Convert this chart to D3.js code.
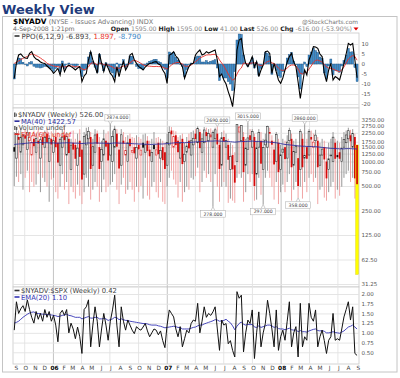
<!DOCTYPE html>
<html><head><meta charset="utf-8">
<script src="https://cdn.jsdelivr.net/npm/d3@7/dist/d3.min.js"></script>
<style>
html,body{margin:0;padding:0;background:#fff}
svg{display:block}
text{font-family:"DejaVu Sans",Verdana,sans-serif}
.ax path{display:none}
</style></head><body>
<svg id="chart" width="400" height="378"></svg>
<script>
// ---------- DATA ----------
const firstWeek = "2005-08-30";
const ppoTicks = [10,5,0,-5,-10,-15,-20];
const priceTicks = [3250,2750,2250,1750,1500,1250,1000,750,500,250,125,62.5,31.25];
const ratioTicks = [2,1.75,1.5,1.25,1,0.75,0.5];

const ppo = [
-7.2,0.5,4.5,5.0,3.7,3.0,2.8,5.3,6.2,3.7,
2.5,2.0,1.0,0.5,0.3,-1.0,-2.0,-3.0,-4.7,-3.5,
-2.2,-5.5,0.3,-3.8,-1.5,-0.5,-1.3,-2.0,-3.0,-2.0,
-1.3,-8.8,-6.0,-4.7,2.0,6.2,2.0,-1.3,-4.7,5.3,
0.5,-3.8,0.3,-2.0,-4.7,-6.0,-8.8,-1.3,-6.3,-2.0,
1.2,-3.0,-1.0,4.5,5.3,2.0,0.3,-1.3,-2.0,-3.0,
-1.5,-0.5,0.3,0.5,1.0,1.2,0.0,-0.5,-3.0,-4.7,
-9.7,4.5,5.0,6.2,4.0,2.8,0.5,-1.3,-7.2,-4.0,
-1.3,0.0,0.3,4.5,6.0,7.0,4.5,5.0,6.2,5.5,
6.0,6.5,7.0,2.0,-6.3,-5.0,-8.0,-10.0,-13.8,-17.0,
-21.3,-11.3,7.0,12.0,12.8,5.0,0.3,-1.3,1.0,3.7,
-1.5,1.2,-6.3,-3.0,-0.5,6.2,6.5,5.3,-4.7,0.3,
-4.0,-8.0,-9.7,-7.0,-3.0,1.0,3.7,5.3,1.0,-1.3,
-9.0,-17.2,-10.0,-3.0,-5.5,2.0,5.0,8.7,8.5,7.8,
5.0,3.7,-4.7,-8.8,-3.0,0.3,-8.0,-6.3,-7.0,-8.0,
-4.0,0.3,5.0,10.3,9.5,10.3,2.0,-6.893];
const ppoSignal = [
0.3,0.8,1.5,2.2,2.8,3.3,3.8,4.5,5.0,4.8,
4.2,3.7,3.0,2.2,1.5,0.3,-0.2,-0.6,-1.0,-1.2,
-1.3,-1.6,-1.2,-1.5,-1.2,-1.0,-1.0,-1.2,-1.4,-1.3,
-1.3,-2.5,-2.8,-2.5,-1.5,0.3,0.6,0.3,-0.5,0.4,
0.3,-0.4,-0.3,-0.5,-1.0,-1.5,-2.2,-1.8,-2.2,-1.6,
-1.0,-1.2,-0.5,0.5,1.5,2.0,1.5,1.0,0.3,-0.4,
-0.8,-1.0,-1.1,-1.2,-1.3,-1.2,-1.3,-1.3,-1.6,-2.0,
-2.5,-1.5,-0.5,0.3,0.6,0.8,0.6,0.0,-1.0,-1.2,
-1.0,-0.5,0.3,1.2,2.0,3.0,3.5,4.0,4.5,4.6,
4.6,4.8,4.8,4.0,2.0,0.5,-1.0,-3.0,-5.0,-7.0,
-8.0,-7.5,-5.0,-3.0,-2.0,0.5,0.3,0.0,0.2,0.6,
0.5,0.5,-0.5,-0.8,-0.5,0.5,1.2,1.5,0.5,0.3,
-0.8,-2.0,-3.0,-3.2,-3.0,-2.0,-1.0,-0.5,-0.5,-1.0,
-2.5,-4.7,-5.0,-4.0,-4.2,-2.5,-1.0,0.8,1.8,2.0,
1.5,1.0,-0.2,-1.5,-2.0,-2.2,-2.5,-3.0,-3.5,-3.8,
-3.0,-1.5,0.5,2.5,3.5,4.2,3.8,1.897];
const ppoHist = [
-7.5,-0.3,3.0,2.8,0.9,-0.3,-1.0,0.8,1.2,-1.1,
-1.7,-1.7,-2.0,-1.7,-1.2,-1.3,-1.8,-2.4,-3.7,-2.3,
-0.9,-3.9,1.5,-2.3,-0.3,0.5,-0.3,-0.8,-1.6,-0.7,
0.0,-6.3,-3.2,-2.2,3.5,5.9,1.4,-1.6,-4.2,4.9,
0.2,-3.4,0.6,-1.5,-3.7,-4.5,-6.6,0.5,-4.1,-0.4,
2.2,-1.8,-0.5,4.0,3.8,0.0,-1.2,-2.3,-2.3,-2.6,
-0.7,0.5,1.4,1.7,2.3,2.4,1.3,0.8,-1.4,-2.7,
-7.2,6.0,5.5,5.9,3.4,2.0,-0.1,-1.3,-6.2,-2.8,
-0.3,0.5,0.0,3.3,4.0,4.0,1.0,1.0,1.7,0.9,
1.4,1.7,2.2,-2.0,-8.3,-5.5,-7.0,-7.0,-8.8,-10.0,
-13.3,-3.8,12.0,15.0,14.8,4.5,0.0,-1.3,0.8,3.1,
-2.0,0.7,-5.8,-2.2,0.0,5.7,5.3,3.8,-5.2,0.0,
-3.2,-6.0,-6.7,-3.8,0.0,3.0,4.7,5.8,1.5,-0.3,
-6.5,-12.5,-5.0,1.0,-1.3,4.5,6.0,7.9,6.7,5.8,
3.5,2.7,-4.5,-7.3,-1.0,2.5,-5.5,-3.3,-3.5,-4.2,
-1.0,1.8,4.5,7.8,6.0,6.1,-1.8,-8.79];

const open = [
1500,1100,2000,1300,1600,2100,1400,1800,1200,1900,
1300,1800,1100,2000,1500,2200,1000,1900,1300,2000,
1700,900,1500,2100,1200,1900,800,1700,1600,900,
1800,1400,700,1600,1900,2000,900,1300,2200,1500,
1000,1200,1800,1700,1200,1000,1500,2200,1400,900,
1800,1200,1000,1900,1300,1500,1100,1600,1200,1700,
1300,1800,1400,1000,1600,1200,1700,1100,1500,1300,
900,1600,2400,1500,2100,1800,1100,1900,1000,1300,
1800,1200,1600,2200,1700,2300,1300,1700,2300,1800,
2000,1500,1900,2200,1600,900,2000,1500,1600,800,
1200,900,1000,2300,1800,2000,900,1400,2100,1500,
2000,700,1500,1800,800,1600,1500,2300,1800,1400,
1000,1700,800,1300,1500,1100,1800,1900,900,1300,
1100,800,1900,1100,1500,1200,2000,1500,1800,1800,
900,1200,1500,1000,800,1200,1000,1700,1200,1300,
1000,1500,1700,1900,2100,1500,2000,1595];
const high = [
2300,2500,2400,2600,2200,2500,2450,2300,2100,2400,
2200,2550,2000,2300,2400,2600,2100,2350,2200,2450,
2300,2000,2500,2700,2300,2200,1900,2400,1900,2200,
2500,1700,2300,2600,2650,2300,1900,2500,2400,2000,
1800,2450,2200,2350,2874,2400,2750,2500,1800,2500,
2300,2000,2100,2200,2000,1950,2100,2000,1900,2150,
2200,2050,1800,1900,2300,1950,2000,1900,1800,1700,
2200,2700,2650,2400,2350,2000,2100,2200,1700,2000,
2200,2300,2400,2500,2700,2500,2200,2650,2600,2500,
2550,2400,2600,2690,1900,2300,2400,2200,1900,1700,
1600,1300,2850,2750,2800,2300,1900,3015,2500,2500,
2200,1800,2500,2300,1900,2200,2750,2600,2100,1800,
2300,1900,1600,1900,1800,2100,2600,2200,1800,1900,
1600,2500,2200,2860,1900,2500,2400,2200,2450,2000,
1700,1900,1800,1500,1700,1900,2300,1900,1800,1700,
2000,2300,2400,2600,2450,2500,2200,1595];
const low = [
500,650,560,700,450,630,770,420,560,490,
520,700,420,630,560,490,320,600,630,420,
350,490,700,450,560,300,490,420,350,520,
380,300,420,630,490,340,450,560,490,320,
420,600,420,490,520,560,700,450,300,520,
630,400,450,560,450,320,490,420,500,350,
630,380,340,490,560,420,360,560,320,300,
490,630,770,600,520,360,560,320,420,490,
450,630,600,660,840,420,560,770,630,700,
560,278,700,490,320,490,560,490,310,350,
330,310,630,700,630,320,420,700,560,700,
330,340,630,390,297,630,770,630,490,340,
560,300,420,520,420,560,700,330,450,560,
358,490,350,560,420,630,700,560,630,300,
450,490,360,330,420,490,560,350,450,380,
490,630,700,770,560,630,350,41];
const close = [
1320,2210,1850,1990,2090,1910,2280,1970,1720,1540,
1910,1660,1850,1600,1970,1720,1930,1620,1800,1500,
970,1880,1990,1830,2020,1270,1590,1400,1080,1460,
1140,600,2030,2120,2350,810,1520,2120,1650,810,
1400,1900,1520,1030,1650,2020,2500,1520,820,2130,
1660,1370,1700,1540,1370,1260,1490,1410,1380,1480,
1600,1350,1160,1290,1420,1390,1230,1370,1040,810,
1710,2280,2160,2030,1590,1300,1680,930,1230,1550,
1450,1800,1930,1890,2560,1460,1900,2440,2050,2200,
2130,2260,2450,1620,810,1960,1760,1820,1050,1160,
800,550,2850,2650,2780,740,1460,1950,1820,2330,
500,1470,2270,940,1480,1830,2700,2200,1610,920,
2150,740,1210,1420,1070,1730,2400,850,1330,1540,
500,2330,850,1190,1080,2340,1860,1730,2110,850,
1200,1420,1060,620,1080,1200,1990,1080,1130,1080,
1460,1870,2120,2390,1770,2220,620,526];
const ma40 = [
1620,1630,1640,1650,1660,1670,1680,1690,1700,1700,
1710,1710,1710,1700,1700,1700,1690,1690,1690,1680,
1680,1680,1690,1690,1700,1690,1690,1680,1680,1680,
1670,1660,1670,1680,1690,1680,1680,1690,1690,1680,
1680,1680,1680,1670,1670,1680,1690,1690,1680,1680,
1680,1670,1670,1660,1660,1650,1650,1640,1640,1640,
1630,1630,1620,1620,1630,1630,1640,1640,1640,1650,
1660,1670,1680,1690,1700,1700,1710,1710,1700,1710,
1720,1720,1730,1740,1750,1750,1760,1760,1770,1770,
1780,1780,1790,1790,1780,1770,1770,1770,1760,1750,
1740,1730,1740,1750,1760,1760,1760,1770,1770,1780,
1770,1760,1760,1750,1750,1740,1740,1730,1720,1710,
1700,1680,1660,1640,1620,1610,1600,1590,1580,1570,
1550,1550,1540,1540,1530,1530,1530,1520,1520,1510,
1500,1490,1480,1470,1460,1450,1450,1440,1440,1430,
1430,1430,1440,1440,1440,1430,1430,1422.57];
const ratio = [
1.07,1.80,1.50,1.62,1.70,1.55,1.85,1.60,1.40,1.25,
1.55,1.35,1.50,1.30,1.60,1.40,1.55,1.30,1.45,1.20,
0.77,1.50,1.58,1.45,1.60,1.00,1.25,1.10,0.85,1.15,
0.90,0.47,1.60,1.67,1.85,0.64,1.20,1.67,1.30,0.64,
1.10,1.50,1.20,0.81,1.30,1.59,1.97,1.20,0.64,1.67,
1.30,1.07,1.33,1.20,1.07,0.98,1.16,1.10,1.07,1.15,
1.24,1.05,0.90,1.00,1.10,1.07,0.95,1.05,0.80,0.62,
1.20,1.59,1.50,1.41,1.10,0.90,1.16,0.64,0.85,1.07,
1.00,1.24,1.33,1.30,1.76,1.00,1.30,1.67,1.40,1.50,
1.45,1.54,1.67,1.10,0.55,1.33,1.20,1.24,0.72,0.80,
0.55,0.38,2.06,1.89,1.97,0.51,1.00,1.33,1.24,1.59,
0.34,1.00,1.54,0.64,1.00,1.24,1.84,1.50,1.10,0.64,
1.59,0.55,0.90,1.07,0.81,1.30,1.80,0.64,1.00,1.16,
0.38,1.76,0.64,0.90,0.81,1.76,1.40,1.30,1.59,0.64,
0.90,1.07,0.80,0.47,0.81,0.90,1.50,0.81,0.85,0.81,
1.10,1.41,1.60,1.80,1.33,1.67,0.47,0.42];
const ema20 = [
1.25,1.27,1.30,1.35,1.40,1.44,1.48,1.51,1.53,1.54,
1.50,1.50,1.49,1.48,1.48,1.47,1.47,1.46,1.45,1.44,
1.42,1.43,1.45,1.46,1.48,1.45,1.44,1.42,1.40,1.40,
1.40,1.36,1.38,1.40,1.42,1.38,1.38,1.40,1.40,1.36,
1.36,1.37,1.36,1.32,1.34,1.36,1.40,1.39,1.34,1.36,
1.34,1.32,1.32,1.30,1.29,1.28,1.27,1.26,1.25,1.24,
1.24,1.23,1.21,1.20,1.20,1.20,1.18,1.17,1.15,1.13,
1.14,1.15,1.16,1.17,1.16,1.14,1.14,1.10,1.10,1.10,
1.10,1.12,1.14,1.15,1.18,1.20,1.20,1.23,1.25,1.27,
1.29,1.31,1.34,1.33,1.30,1.31,1.32,1.35,1.30,1.26,
1.18,1.08,1.17,1.24,1.28,1.22,1.20,1.22,1.21,1.22,
1.15,1.14,1.18,1.14,1.16,1.18,1.20,1.20,1.18,1.14,
1.16,1.11,1.10,1.10,1.08,1.10,1.12,1.08,1.07,1.08,
1.03,1.06,1.03,1.03,1.02,1.05,1.07,1.09,1.10,1.06,
1.05,1.06,1.04,1.00,1.00,1.01,1.03,1.01,1.00,0.99,
1.02,1.05,1.10,1.15,1.17,1.20,1.15,1.10];
const highCallouts = [44, 93, 107, 133];
const lowCallouts = [91, 114, 130];

// ---------- LAYOUT ----------
const svg = d3.select("#chart");
const n = close.length;
const t0 = d3.timeParse("%Y-%m-%d")(firstWeek);
const dates = d3.range(n).map(i => d3.timeDay.offset(t0, 7*i));
const L = 13, R = 359;
const P1 = {t:33, b:108}, P2 = {t:108, b:287}, P3 = {t:287, b:364};
const x = d3.scaleTime().domain([new Date(2005,7,26), new Date(2008,8,5)]).range([13, 358]);
const yP = d3.scaleLinear().domain([-20,10]).range([104,44]);
const yV = d3.scaleLog().domain([1000,2000]).range([161.5,137]);
const yR = d3.scaleLinear().domain([0.5,2]).range([352.3,294]);
const X = i => x(dates[i]);

// title
svg.append("text").attr("x",2).attr("y",14).attr("font-size",13).attr("font-weight","bold")
  .attr("font-family",'"Liberation Sans",Arial,sans-serif')
  .attr("fill","#1f3b7c").text("Weekly View");
// outer frame
svg.append("rect").attr("x",2.5).attr("y",16.5).attr("width",394.5).attr("height",355.5)
  .attr("fill","#fff").attr("stroke","#c4c4c4");

// header
const h1 = svg.append("text").attr("x",13).attr("y",23.5).attr("font-size",6.6);
h1.append("tspan").attr("font-weight","bold").attr("font-size",7.4).attr("fill","#000").text("$NYADV");
h1.append("tspan").attr("fill","#777").text(" (NYSE - Issues Advancing) INDX");
svg.append("text").attr("x",13).attr("y",31).attr("font-size",6.2).attr("fill","#666").text("4-Sep-2008 1:21pm");
svg.append("text").attr("x",358).attr("y",23.5).attr("font-size",5.9).attr("fill","#777").attr("text-anchor","end").text("@StockCharts.com");
const h2 = svg.append("text").attr("x",352).attr("y",31).attr("font-size",6.2).attr("text-anchor","end").attr("fill","#888");
[["Open"," 1595.00  "],["High"," 1595.00  "],["Low"," 41.00  "],["Last"," 526.00  "],["Chg"," -616.00 (-53.90%)"]].forEach(([a,b])=>{
  h2.append("tspan").attr("font-weight","bold").attr("fill","#222").text(a);
  h2.append("tspan").text(b);
});
svg.append("path").attr("d","M353.5,27.5 L358.5,27.5 L356,30.5 Z").attr("fill","#d00");

// panel backgrounds / borders
[P1,P2,P3].forEach(p => svg.append("rect").attr("x",L).attr("y",p.t).attr("width",R-L).attr("height",p.b-p.t)
  .attr("fill","#fff").attr("stroke","#c8c8c8").attr("stroke-width",0.8));

// vertical grid (quarterly)
const vg = svg.append("g").attr("class","ax").attr("transform",`translate(0,${P3.b})`)
  .call(d3.axisBottom(x).ticks(d3.timeMonth.every(3)).tickSize(-(P3.b-P1.t)).tickFormat(""));
vg.selectAll(".tick line").attr("stroke", d => d.getMonth()===0 ? "#bdbdbd" : "#e2e2e2").attr("stroke-width",0.9);

// horizontal grids + right labels
function yAxis(scale, ticks, fmt){
  const g = svg.append("g").attr("class","ax").attr("transform",`translate(${L},0)`)
    .call(d3.axisRight(scale).tickValues(ticks).tickSize(R-L).tickPadding(2.5).tickFormat(fmt));
  g.selectAll(".tick line").attr("stroke","#e2e2e2").attr("stroke-width",0.9);
  g.selectAll(".tick text").attr("font-size",5.5).attr("fill","#555").attr("font-family",'"DejaVu Sans",Verdana,sans-serif');
}
yAxis(yP, ppoTicks, d => String(d));
yAxis(yV, priceTicks, d => d.toFixed(2));
yAxis(yR, ratioTicks, d => d.toFixed(2));

// clip paths
const defs = svg.append("defs");
[P1,P2,P3].forEach((p,k)=> defs.append("clipPath").attr("id","cp"+k).append("rect")
  .attr("x",L).attr("y",p.t).attr("width",R-L).attr("height",p.b-p.t));

// ---- Panel 1: PPO ----
const g1 = svg.append("g").attr("clip-path","url(#cp0)");
g1.selectAll("rect.h").data(ppoHist).join("rect").attr("class","h")
  .attr("x",(d,i)=>X(i)-1).attr("width",2)
  .attr("y",d=>Math.min(yP(d),yP(0))).attr("height",d=>Math.abs(yP(d)-yP(0)))
  .attr("fill","#3f8cc8").attr("stroke","#1f5080").attr("stroke-width",0.4);
g1.append("path").datum(ppoSignal).attr("fill","none").attr("stroke","#e8302a").attr("stroke-width",0.9)
  .attr("d", d3.line().x((d,i)=>X(i)).y(d=>yP(d)));
g1.append("path").datum(ppo).attr("fill","none").attr("stroke","#000").attr("stroke-width",1.1)
  .attr("d", d3.line().x((d,i)=>X(i)).y(d=>yP(d)));

// ---- Panel 2: candles ----
const g2 = svg.append("g").attr("clip-path","url(#cp1)");
for (let i=0;i<n;i++){
  const up = i===0 ? true : close[i] >= close[i-1];
  const col = up ? "#000" : "#d40000";
  const wick = up ? "#8c8c8c" : "#ee9a9a";
  const cx = X(i);
  if (i===n-1){
    g2.append("rect").attr("x",cx-1.4).attr("width",2.8).attr("y",yV(high[i])).attr("height",yV(low[i])-yV(high[i]))
      .attr("fill","#ffff00").attr("stroke","#d8c800").attr("stroke-width",0.4);
  } else {
    g2.append("line").attr("x1",cx).attr("x2",cx).attr("y1",yV(high[i])).attr("y2",yV(low[i]))
      .attr("stroke",wick).attr("stroke-width",0.9);
  }
  const top = yV(Math.max(open[i],close[i])), bot = yV(Math.min(open[i],close[i]));
  const filled = close[i] < open[i];
  g2.append("rect").attr("x",cx-0.9).attr("width",1.8).attr("y",top).attr("height",Math.max(0.8,bot-top))
    .attr("fill", filled ? col : "#fff").attr("stroke", col).attr("stroke-width", filled?0:0.6)
    .attr("opacity", filled?0.95:0.75);
}
g2.append("path").datum(ma40).attr("fill","none").attr("stroke","#2e2e9e").attr("stroke-width",0.9)
  .attr("d", d3.line().x((d,i)=>X(i)).y(d=>yV(d)));

// ---- legends (panel 2 first line measured for callout placement) ----
const LF = 6.8;
function swatch(y, color){ svg.append("line").attr("x1",14.5).attr("x2",19.5).attr("y1",y).attr("y2",y).attr("stroke",color).attr("stroke-width",1.6); }
const l2 = svg.append("text").attr("x",18).attr("y",117).attr("font-size",LF).attr("fill","#444").text("$NYADV (Weekly) 526.00");
const bb = l2.node().getBBox();
const legendEnd = bb.x + bb.width;

function callout(cx, tipY, label, above, minLeft){
  const w=25, h=6.4;
  const cy = above ? tipY-6.4 : tipY+7.2;
  const bx = Math.max(cx, (minLeft||0) + w/2 + 1.5);
  const g = svg.append("g");
  g.append("path").attr("d", above
      ? `M${cx-2},${cy+h/2} L${cx},${tipY} L${cx+2},${cy+h/2}`
      : `M${cx-2},${cy-h/2} L${cx},${tipY} L${cx+2},${cy-h/2}`)
    .attr("fill","#fff").attr("stroke","#999").attr("stroke-width",0.5);
  g.append("rect").attr("x",bx-w/2).attr("y",cy-h/2).attr("width",w).attr("height",h)
    .attr("fill","#fff").attr("stroke","#aaa").attr("stroke-width",0.5);
  g.append("text").attr("x",bx).attr("y",cy+1.7).attr("text-anchor","middle").attr("font-size",4.6)
    .attr("fill","#444").text(label);
}
highCallouts.forEach(i => callout(X(i), yV(high[i]), high[i].toFixed(3), true, X(i) < 130 ? legendEnd : 0));
lowCallouts.forEach(i => callout(X(i), yV(low[i]), low[i].toFixed(3), false, 0));

// ---- Panel 3: ratio ----
const g3 = svg.append("g").attr("clip-path","url(#cp2)");
g3.append("path").datum(ema20).attr("fill","none").attr("stroke","#3434b4").attr("stroke-width",0.9)
  .attr("d", d3.line().x((d,i)=>X(i)).y(d=>yR(d)));
g3.append("path").datum(ratio).attr("fill","none").attr("stroke","#111").attr("stroke-width",1)
  .attr("d", d3.line().x((d,i)=>X(i)).y(d=>yR(d)));

// ---- month axis ----
const xa = svg.append("g").attr("class","ax").attr("transform",`translate(1,${P3.b})`)
  .call(d3.axisBottom(x).ticks(d3.timeMonth.every(1)).tickSize(0).tickPadding(0)
    .tickFormat(d => d.getMonth()===0 ? d3.timeFormat("%y")(d) : d3.timeFormat("%b")(d)[0]));
xa.selectAll(".tick line").remove();
xa.selectAll(".tick text").attr("y",6.3).attr("dy",0).attr("font-size",5.8)
  .attr("font-family",'"DejaVu Sans",Verdana,sans-serif')
  .attr("font-weight", d => d.getMonth()===0 ? "bold" : "normal")
  .attr("fill", d => d.getMonth()===0 ? "#000" : "#444");

// ---- remaining legends ----
swatch(36,"#333");
const lg1 = svg.append("text").attr("x",21.5).attr("y",38.5).attr("font-size",LF+0.3);
lg1.append("tspan").attr("fill","#444").text("PPO(6,12,9) -6.893, ");
lg1.append("tspan").attr("fill","#e8302a").text("1.897, ");
lg1.append("tspan").attr("fill","#3b86c6").text("-8.790");

svg.insert("rect", () => l2.node()).attr("x",13.5).attr("y",bb.y-0.3).attr("width",legendEnd-13).attr("height",bb.height).attr("fill","#fff");
svg.append("rect").attr("x",14.2).attr("y",112.5).attr("width",1.2).attr("height",4.5).attr("fill","#333");
svg.append("rect").attr("x",15.8).attr("y",113.5).attr("width",1.2).attr("height",3).attr("fill","#777");
swatch(121.2,"#2e2e9e");
svg.append("text").attr("x",21).attr("y",123.5).attr("font-size",LF).attr("fill","#2e2e9e").text("MA(40) 1422.57");
svg.append("rect").attr("x",14.2).attr("y",126).attr("width",1.3).attr("height",4).attr("fill","#555");
svg.append("rect").attr("x",16).attr("y",127).attr("width",1.3).attr("height",3).attr("fill","#555");
svg.append("text").attr("x",18.5).attr("y",130).attr("font-size",LF).attr("fill","#555").text("Volume undef");
swatch(134.2,"#e8302a");
svg.append("text").attr("x",21).attr("y",136.5).attr("font-size",LF).attr("fill","#e8302a").text("EMA(60) undef");

// panel 3 legend
swatch(290.5,"#333");
svg.append("text").attr("x",21).attr("y",293).attr("font-size",LF).attr("fill","#444").text("$NYADV:$SPX (Weekly) 0.42");
swatch(297,"#3434b4");
svg.append("text").attr("x",21).attr("y",299.5).attr("font-size",LF).attr("fill","#3434b4").text("EMA(20) 1.10");
</script>
</body></html>
